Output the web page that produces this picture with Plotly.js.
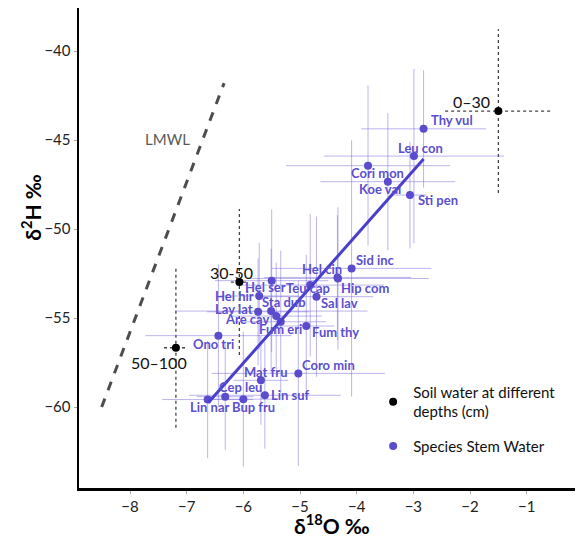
<!DOCTYPE html>
<html>
<head>
<meta charset="utf-8">
<script src="https://cdn.plot.ly/plotly-3.0.1.min.js"></script>
<style>html,body{margin:0;padding:0;background:#fff;}#chart{width:581px;height:546px;}</style>
</head>
<body>
<div id="chart"></div>
<script>
// ---- data ----
const speciesNames = ['Thy vul','Leu con','Cori mon','Koe val','Sti pen','Sid inc','Hel cin','Hip com','Teu cap','Hel ser','Sal lav','Hel hir','Sta dub','Lav lat','Are cav','Fum eri','Fum thy','Ono tri','Coro min','Mat fru','Lin suf','Cep leu','Bup fru','Lin nar'];
const speciesD18O = [-2.82,-2.99,-3.80,-3.45,-3.06,-4.09,-4.34,-4.33,-4.82,-5.50,-4.71,-5.72,-5.51,-5.74,-5.42,-5.34,-4.89,-6.44,-5.03,-5.69,-5.62,-6.32,-6.00,-6.63];
const speciesD2H = [-44.37,-45.90,-46.44,-47.34,-48.09,-52.21,-52.72,-52.78,-53.15,-52.90,-53.80,-53.76,-54.61,-54.65,-54.89,-55.21,-55.45,-55.99,-58.11,-58.50,-59.34,-59.42,-59.56,-59.58];
const speciesSd18O = [1.10,1.59,1.45,1.19,0.29,1.41,1.30,1.60,1.30,1.00,1.00,0.70,1.70,0.90,0.80,0.80,0.50,1.29,1.53,0.48,1.34,0.50,0.60,0.80];
const speciesSd2H = [3.3,4.9,4.5,3.85,3.0,7.2,3.5,4.0,4.0,4.0,4.5,3.0,3.5,3.0,3.0,4.0,4.0,4.0,5.2,2.5,3.0,3.0,3.8,3.3];

const soilDepths = ['0–30','30-50','50–100'];
const soilD18O = [-1.50,-6.07,-7.19];
const soilD2H = [-43.37,-52.98,-56.67];
const soilSd18O = [0.94,0.15,0.21];
const soilSd2H = [4.6,4.1,4.5];

const lmwlD18O = [-8.50,-6.34];
const lmwlD2H = [-60.0,-41.8];
const fitD18O = [-6.62,-2.82];
const fitD2H = [-59.76,-46.07];

const xTicks = [-8,-7,-6,-5,-4,-3,-2,-1];
const yTicks = [-60,-55,-50,-45,-40];

// ---- styling / placement ----
const purple = '#5a4ccc';
const barColor = 'rgba(120,108,220,0.5)';
const labelFont = {family:'Lato, sans-serif', size:13, color:'#5b4fcf', weight:'bold'};
const speciesLabelPos = {
  'Thy vul':['left',5,9],'Leu con':['center',7,8],'Cori mon':['center',9,-7],'Koe val':['center',-8,-7],
  'Sti pen':['left',6,-5],'Sid inc':['left',2,8],'Hel cin':['center',-15,8],'Hip com':['left',1,-9],
  'Teu cap':['center',-2,-3],'Hel ser':['center',-6,-6],'Sal lav':['left',3,-6],'Hel hir':['right',-3,0],
  'Sta dub':['center',13,9],'Lav lat':['right',-3,3],'Are cav':['right',-5,-3],'Fum eri':['center',0,-7],
  'Fum thy':['left',4,-6],'Ono tri':['center',-5,-8],'Coro min':['left',2,8],'Mat fru':['center',5,8],
  'Lin suf':['left',4,0],'Cep leu':['center',15,10],'Bup fru':['center',10,-8],'Lin nar':['center',2,-7]
};
const soilLabelPos = {'0–30':['right',-6,10],'30-50':['center',-8,10],'50–100':['center',-17,-15]};

const traces = [];
// soil water dotted error lines
soilD18O.forEach((x,i)=>{
  const y = soilD2H[i];
  traces.push({x:[x-soilSd18O[i], x+soilSd18O[i]], y:[y,y], mode:'lines', type:'scatter',
    line:{color:'#444', width:1.3, dash:'dot'}, showlegend:false, hoverinfo:'skip'});
  traces.push({x:[x,x], y:[y-soilSd2H[i], y+soilSd2H[i]], mode:'lines', type:'scatter',
    line:{color:'#444', width:1.3, dash:'dot'}, showlegend:false, hoverinfo:'skip'});
});
// LMWL
traces.push({x:lmwlD18O, y:lmwlD2H, mode:'lines', type:'scatter',
  line:{color:'#4d4d4d', width:3, dash:'dash'}, showlegend:false, hoverinfo:'skip'});
// species with error bars
traces.push({x:speciesD18O, y:speciesD2H, mode:'markers', type:'scatter', name:'Species Stem Water',
  legendgroup:'species', legendrank:2,
  marker:{color:purple, size:8},
  error_x:{type:'data', array:speciesSd18O, visible:true, color:barColor, thickness:1, width:0},
  error_y:{type:'data', array:speciesSd2H, visible:true, color:barColor, thickness:1, width:0},
  text:speciesNames, hoverinfo:'text'});
// regression line
traces.push({x:fitD18O, y:fitD2H, mode:'lines', type:'scatter',
  line:{color:'#4a3fcc', width:3}, showlegend:false, hoverinfo:'skip'});
// soil points
traces.push({x:soilD18O, y:soilD2H, mode:'markers', type:'scatter', name:'Soil water at different<br>depths (cm)',
  legendgroup:'soil', legendrank:1,
  marker:{color:'#000', size:8}, text:soilDepths, hoverinfo:'text'});

const annotations = [];
speciesNames.forEach((n,i)=>{
  const p = speciesLabelPos[n];
  annotations.push({x:speciesD18O[i], y:speciesD2H[i], text:n, showarrow:false,
    xanchor:p[0], yanchor:'middle', xshift:p[1], yshift:p[2], font:labelFont});
});
soilDepths.forEach((n,i)=>{
  const p = soilLabelPos[n];
  annotations.push({x:soilD18O[i], y:soilD2H[i], text:n, showarrow:false,
    xanchor:p[0], yanchor:'middle', xshift:p[1], yshift:p[2],
    font:{family:'Lato, sans-serif', size:16, color:'#111'}});
});
annotations.push({x:-7.33, y:-44.94, text:'LMWL', showarrow:false,
  font:{family:'Lato, sans-serif', size:15, color:'#5a5a5a'}});
annotations.push({xref:'paper', yref:'paper', x:-0.128, y:0.585, text:'δ<sup>2</sup>H ‰', textangle:-90,
  showarrow:false, font:{family:'Lato, sans-serif', size:21, color:'#000', weight:'bold'}});
annotations.push({xref:'paper', yref:'paper', x:0.51, y:-0.076, yanchor:'middle', text:'δ<sup>18</sup>O ‰',
  showarrow:false, font:{family:'Lato, sans-serif', size:21, color:'#000', weight:'bold'}});

const layout = {
  width:581, height:546,
  margin:{l:79, r:6, t:8, b:58},
  paper_bgcolor:'#fff', plot_bgcolor:'#fff',
  showlegend:true,
  legend:{x:0.593, y:0.234, xanchor:'left', yanchor:'top', bgcolor:'rgba(0,0,0,0)',
    font:{family:'Lato, sans-serif', size:15, color:'#111'}, traceorder:'grouped', tracegroupgap:12},
  xaxis:{range:[-8.9,-0.148], tickvals:xTicks, showgrid:false, zeroline:false,
    showline:true, linecolor:'#000', linewidth:2.5, ticks:'outside', ticklen:3, tickcolor:'#aaa',
    tickfont:{family:'Lato, sans-serif', size:15, color:'#222'}},
  yaxis:{range:[-64.55,-37.58], tickvals:yTicks, showgrid:false, zeroline:false,
    showline:true, linecolor:'#000', linewidth:2.5, ticks:'outside', ticklen:3, tickcolor:'#aaa',
    tickfont:{family:'Lato, sans-serif', size:15, color:'#222'}},
  annotations:annotations
};

Plotly.newPlot('chart', traces, layout, {displayModeBar:false, staticPlot:true});
</script>
</body>
</html>
